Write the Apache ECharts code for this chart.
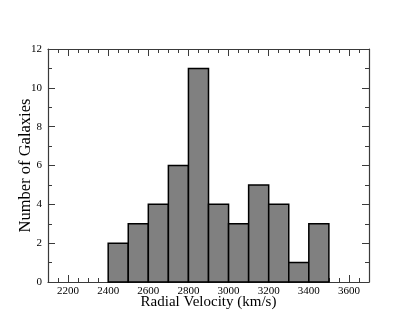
<!DOCTYPE html>
<html>
<head>
<meta charset="utf-8">
<script src="https://cdn.jsdelivr.net/npm/echarts@6/dist/echarts.min.js"></script>
<style>
html,body{margin:0;padding:0;background:#fff;}
#chart{width:415px;height:332px;}
</style>
</head>
<body>
<div id="chart"></div>
<script>
// histogram bins (left edge, km/s) and counts
var binStarts = [2400, 2500, 2600, 2700, 2800, 2900, 3000, 3100, 3200, 3300, 3400];
var counts = [2, 3, 4, 6, 11, 4, 3, 5, 4, 1, 3];
var binWidth = 100;
var xLabels = [2200, 2400, 2600, 2800, 3000, 3200, 3400, 3600];

var myChart = echarts.init(document.getElementById('chart'));

var serif = 'Liberation Serif';
var lineCol = '#3a3a3a';

var histData = binStarts.map(function (s, i) {
    return [s, s + binWidth, counts[i]];
});

function plain(v) {
    return String(v);
}

function xAxisBase(pos, major, showLabel) {
    var ax = {
        type: 'value',
        position: pos,
        min: 2100,
        max: 3700,
        splitLine: {show: false},
        axisLine: {show: major, onZero: false, lineStyle: {color: lineCol, width: 1.2}},
        axisLabel: {show: false}
    };
    if (major) {
        ax.axisTick = {show: true, inside: true, length: 7, customValues: xLabels,
            lineStyle: {color: lineCol, width: 1}};
        ax.axisLabel = {show: showLabel, customValues: xLabels, formatter: plain,
            fontFamily: serif, fontSize: 11, color: '#000', margin: 4};
    } else {
        ax.interval = 50;
        ax.axisTick = {show: true, inside: true, length: 4, lineStyle: {color: lineCol, width: 1}};
    }
    return ax;
}

function yAxisBase(pos, showLabel) {
    return {
        type: 'value',
        position: pos,
        min: 0,
        max: 12,
        interval: 2,
        splitLine: {show: false},
        axisLine: {show: true, lineStyle: {color: lineCol, width: 1.2}},
        axisTick: {show: true, inside: true, length: 7, lineStyle: {color: lineCol, width: 1}},
        minorTick: {show: true, splitNumber: 2, length: 4, lineStyle: {color: lineCol, width: 1}},
        axisLabel: {show: showLabel, formatter: plain, fontFamily: serif, fontSize: 11,
            color: '#000', margin: 6}
    };
}

var xMain = xAxisBase('bottom', true, true);
xMain.name = 'Radial Velocity (km/s)';
xMain.nameLocation = 'middle';
xMain.nameGap = 13;
xMain.nameMoveOverlap = false;
xMain.nameTextStyle = {fontFamily: serif, fontSize: 15, color: '#000', verticalAlign: 'top'};

var yMain = yAxisBase('left', true);
yMain.name = 'Number of Galaxies';
yMain.nameLocation = 'middle';
yMain.nameGap = 14;
yMain.nameMoveOverlap = false;
yMain.nameTextStyle = {fontFamily: serif, fontSize: 16.5, color: '#000'};

option = {
    backgroundColor: '#fff',
    animation: false,
    grid: {left: 48, top: 49, right: 46, bottom: 50, containLabel: false, outerBoundsMode: 'none'},
    xAxis: [
        xMain,
        xAxisBase('bottom', false, false),
        xAxisBase('top', true, false),
        xAxisBase('top', false, false)
    ],
    yAxis: [
        yMain,
        yAxisBase('right', false)
    ],
    series: [
        {
            type: 'custom',
            xAxisIndex: 0,
            yAxisIndex: 0,
            encode: {x: [0, 1], y: 2},
            renderItem: function (params, api) {
                var p0 = api.coord([api.value(0), 0]);
                var p1 = api.coord([api.value(1), api.value(2)]);
                return {
                    type: 'rect',
                    shape: {x: p0[0], y: p1[1], width: p1[0] - p0[0], height: p0[1] - p1[1]},
                    style: {fill: '#808080', stroke: '#000', lineWidth: 1.5}
                };
            },
            data: histData
        }
    ]
};

myChart.setOption(option);
</script>
</body>
</html>
